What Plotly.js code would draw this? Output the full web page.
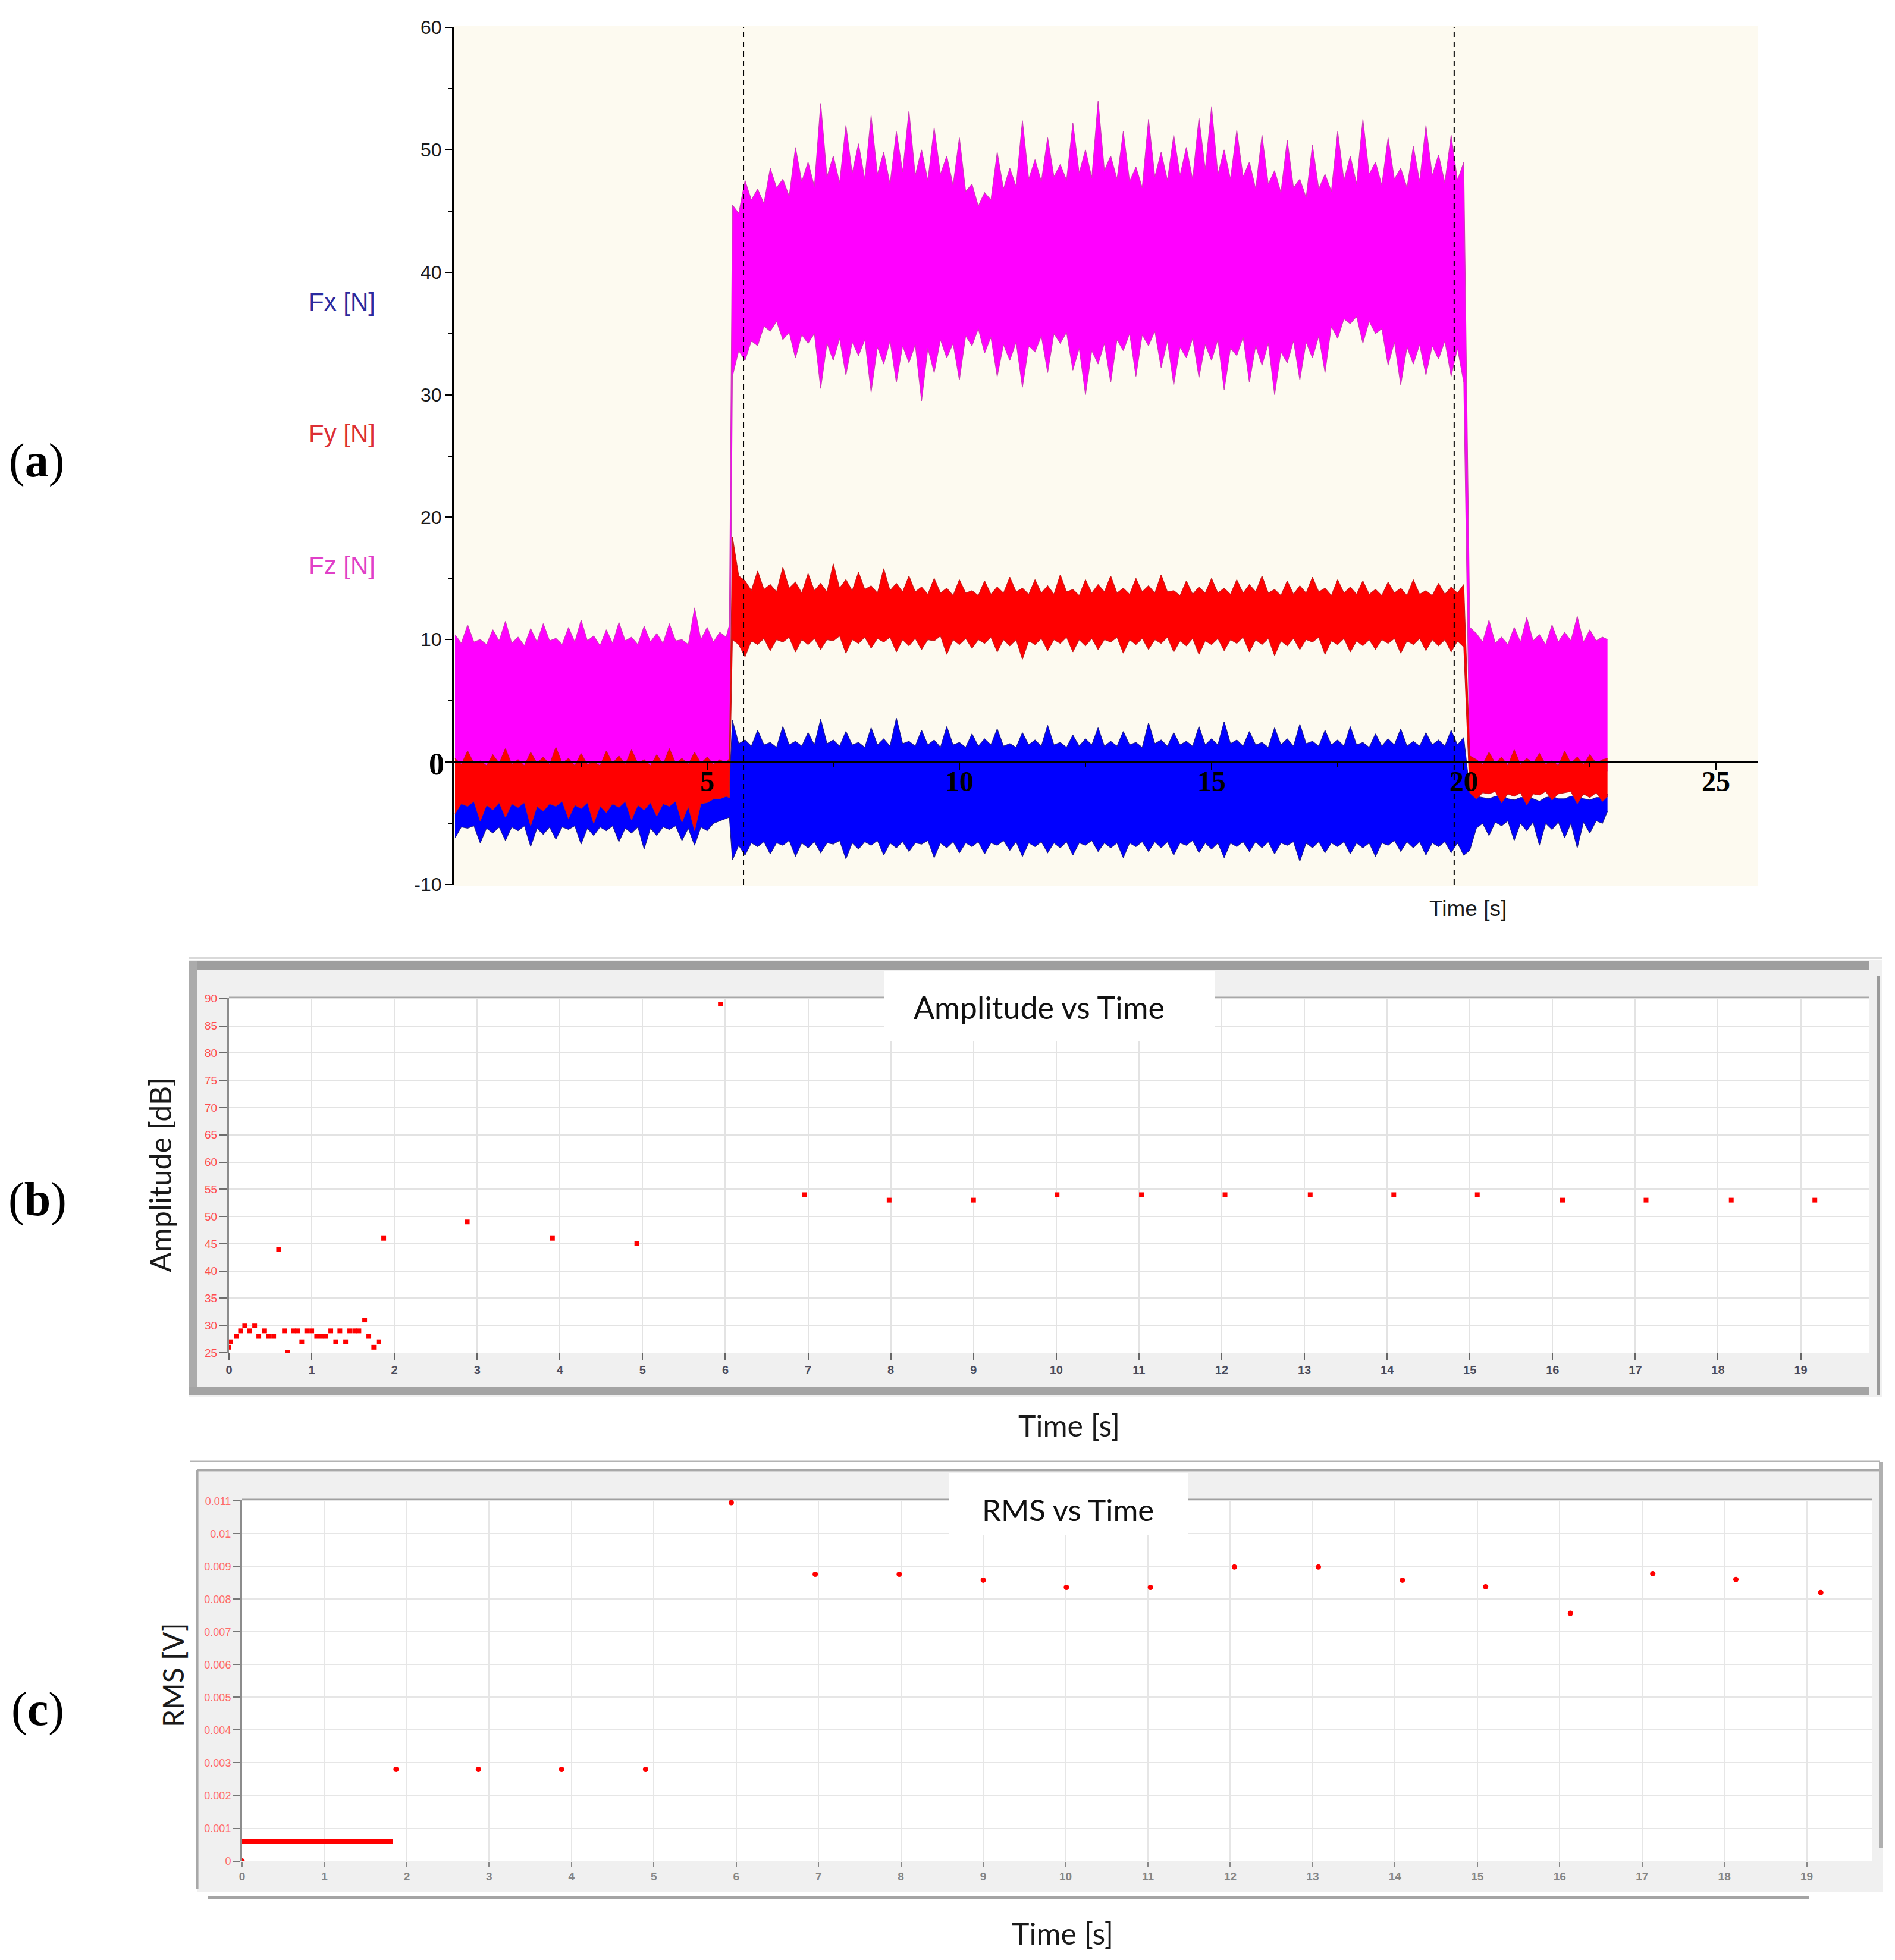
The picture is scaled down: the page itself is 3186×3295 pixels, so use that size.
<!DOCTYPE html>
<html><head><meta charset="utf-8">
<script src="https://cdn.plot.ly/plotly-3.0.1.min.js"></script>
<style>html,body{margin:0;padding:0;background:#fff}#chart{width:3186px;height:3295px}</style>
</head><body><div id="chart"></div>
<script>
// ---------------- DATA ----------------
// Panel (a): force signals, read as upper/lower envelopes of the noisy bands (one row per second)
const forceTime = [
  0, 0.125, 0.25, 0.375, 0.5, 0.625, 0.75, 0.875,
  1, 1.125, 1.25, 1.375, 1.5, 1.625, 1.75, 1.875,
  2, 2.125, 2.25, 2.375, 2.5, 2.625, 2.75, 2.875,
  3, 3.125, 3.25, 3.375, 3.5, 3.625, 3.75, 3.875,
  4, 4.125, 4.25, 4.375, 4.5, 4.625, 4.75, 4.875,
  5, 5.125, 5.25, 5.375, 5.44,
  5.5, 5.625, 5.75, 5.875,
  6, 6.125, 6.25, 6.375, 6.5, 6.625, 6.75, 6.875,
  7, 7.125, 7.25, 7.375, 7.5, 7.625, 7.75, 7.875,
  8, 8.125, 8.25, 8.375, 8.5, 8.625, 8.75, 8.875,
  9, 9.125, 9.25, 9.375, 9.5, 9.625, 9.75, 9.875,
  10, 10.125, 10.25, 10.375, 10.5, 10.625, 10.75, 10.875,
  11, 11.125, 11.25, 11.375, 11.5, 11.625, 11.75, 11.875,
  12, 12.125, 12.25, 12.375, 12.5, 12.625, 12.75, 12.875,
  13, 13.125, 13.25, 13.375, 13.5, 13.625, 13.75, 13.875,
  14, 14.125, 14.25, 14.375, 14.5, 14.625, 14.75, 14.875,
  15, 15.125, 15.25, 15.375, 15.5, 15.625, 15.75, 15.875,
  16, 16.125, 16.25, 16.375, 16.5, 16.625, 16.75, 16.875,
  17, 17.125, 17.25, 17.375, 17.5, 17.625, 17.75, 17.875,
  18, 18.125, 18.25, 18.375, 18.5, 18.625, 18.75, 18.875,
  19, 19.125, 19.25, 19.375, 19.5, 19.625, 19.75, 19.875,
  20,
  20.12, 20.25, 20.375, 20.5, 20.625, 20.75, 20.875,
  21, 21.125, 21.25, 21.375, 21.5, 21.625, 21.75, 21.875,
  22, 22.125, 22.25, 22.375, 22.5, 22.625, 22.75,
  22.85
];
const fzUpper = [
  10.4, 9.7, 11.2, 9.8, 10.0, 9.6, 10.8, 9.9,
  11.5, 9.7, 10.2, 9.5, 10.9, 9.8, 11.3, 9.9,
  10.1, 9.6, 11.0, 9.8, 11.6, 9.9, 10.3, 9.5,
  10.8, 9.7, 11.4, 9.9, 10.2, 9.6, 11.1, 9.8,
  10.5, 9.7, 11.3, 9.9, 10.0, 9.6, 12.6, 10.0,
  11.0, 9.8, 10.6, 10.2, 11.2,
  45.5, 44.8, 47.5, 45.9,
  46.8, 45.6, 48.5, 46.9, 47.6, 46.2, 50.2, 47.4,
  49.0, 47.0, 53.8, 47.8, 49.5, 47.3, 52.0, 48.1,
  50.5, 47.6, 52.8, 48.0, 49.8, 47.2, 51.5, 48.2,
  53.2, 47.9, 50.0, 47.5, 51.8, 48.0, 49.5, 47.1,
  51.0, 46.6, 47.2, 45.4, 46.5, 45.9, 49.8, 46.8,
  48.5, 47.0, 52.4, 47.6, 49.2, 47.4, 51.0, 47.8,
  48.8, 47.5, 52.2, 48.1, 50.0, 47.7, 54.0, 48.3,
  49.5, 47.6, 51.5, 47.4, 48.6, 46.9, 52.5, 47.8,
  49.8, 47.5, 51.2, 47.9, 50.2, 47.6, 52.6, 48.4,
  53.5, 48.0, 50.0, 47.6, 51.6, 47.8, 49.0, 46.8,
  51.2, 47.2, 48.3, 46.5, 50.8, 46.9, 47.6, 46.1,
  50.4, 46.8, 48.0, 46.6, 51.5, 47.5, 49.5, 47.2,
  52.5, 48.0, 49.0, 47.1, 51.0, 47.6, 48.5, 46.9,
  50.3, 47.4, 52.0, 47.9, 49.6, 47.3, 51.2, 47.5,
  49.0,
  11.0, 10.5, 9.8, 11.6, 9.7, 10.2, 9.6,
  11.0, 9.8, 11.8, 9.9, 10.4, 9.6, 11.2, 9.8,
  10.6, 9.9, 11.9, 9.8, 10.8, 9.9, 10.2,
  10.0
];
const fzLower = [
  -0.8, -0.6, -0.9, -0.7, -0.8, -0.6, -0.9, -0.7,
  -0.8, -0.6, -0.9, -0.7, -0.8, -0.6, -0.9, -0.7,
  -0.8, -0.6, -0.9, -0.7, -0.8, -0.6, -0.9, -0.7,
  -0.8, -0.6, -0.9, -0.7, -0.8, -0.6, -0.9, -0.7,
  -0.8, -0.6, -0.9, -0.7, -0.8, -0.6, -0.9, -0.7,
  -0.8, -0.6, -0.9, -0.7, -0.7,
  31.5, 33.6, 32.8, 34.4,
  34.0, 35.6, 35.2, 36.0, 34.5, 35.1, 33.0, 34.9,
  34.2, 35.0, 30.5, 34.2, 32.8, 34.6, 31.6, 34.3,
  33.2, 34.5, 30.2, 33.9, 32.5, 34.4, 31.0, 34.0,
  32.6, 34.1, 29.5, 33.8, 31.8, 34.5, 33.0, 34.2,
  31.2, 34.8, 34.0, 35.4, 33.4, 34.7, 31.5, 34.1,
  32.8, 34.3, 30.6, 34.0, 33.5, 34.8, 31.8, 35.0,
  34.2, 35.1, 32.0, 33.8, 30.0, 33.6, 32.5, 34.2,
  31.0, 34.5, 33.6, 35.0, 31.5, 34.9, 34.0, 35.2,
  32.2, 34.4, 30.8, 33.9, 33.0, 34.6, 31.4, 34.1,
  32.8, 34.5, 30.4, 33.8, 33.2, 34.7, 31.0, 34.0,
  32.4, 34.2, 30.0, 33.5, 32.6, 34.4, 31.2, 34.3,
  33.0, 34.8, 31.8, 35.6, 34.6, 36.2, 35.8, 36.4,
  34.2, 36.0, 35.0, 35.4, 32.4, 34.3, 30.8, 33.9,
  32.5, 34.1, 31.6, 34.0, 32.9, 34.4, 31.5, 33.8,
  31.0,
  -0.5, -0.8, -0.6, -0.9, -0.7, -0.8, -0.6,
  -0.9, -0.7, -0.8, -0.6, -0.9, -0.7, -0.8, -0.6,
  -0.9, -0.7, -0.8, -0.6, -0.9, -0.7, -0.8,
  -0.7
];
const fyUpper = [
  0.3, -0.2, 0.9, -0.1, 0.1, -0.3, 0.6, -0.1,
  1.1, -0.2, 0.2, -0.3, 0.8, -0.1, 0.4, -0.2,
  1.2, -0.1, 0.3, -0.3, 0.7, -0.2, 0.0, -0.3,
  0.9, -0.1, 0.5, -0.2, 1.0, -0.1, 0.2, -0.3,
  0.6, -0.2, 1.1, -0.1, 0.3, -0.2, 0.8, -0.1,
  0.4, -0.2, 0.2, -0.1, 0.3,
  18.4, 15.2, 14.8, 14.0,
  15.6, 14.1, 14.5, 13.9, 15.9, 14.2, 14.7, 13.8,
  15.4, 14.0, 14.6, 13.9, 16.2, 14.2, 14.9, 14.0,
  15.5, 14.1, 14.4, 13.8, 15.8, 14.0, 14.6, 13.9,
  15.2, 13.9, 14.3, 13.7, 15.0, 13.8, 14.2, 13.6,
  14.9, 13.8, 14.0, 13.6, 14.8, 13.7, 14.3, 13.8,
  15.1, 13.9, 14.2, 13.7, 14.9, 13.8, 14.4, 13.7,
  15.3, 13.9, 14.1, 13.6, 14.9, 13.8, 14.5, 13.9,
  15.2, 13.8, 14.2, 13.7, 15.0, 13.9, 14.4, 13.8,
  15.3, 13.9, 14.0, 13.6, 14.8, 13.7, 14.3, 13.8,
  15.0, 13.8, 14.2, 13.7, 14.9, 13.8, 14.5, 13.9,
  15.2, 13.8, 14.1, 13.6, 14.8, 13.7, 14.4, 13.8,
  15.1, 13.9, 14.2, 13.6, 14.9, 13.8, 14.3, 13.7,
  14.8, 13.7, 14.1, 13.6, 14.7, 13.8, 14.2, 13.6,
  14.9, 13.7, 14.0, 13.6, 14.6, 13.7, 14.3, 13.8,
  14.5,
  0.5, 0.2, -0.2, 0.8, -0.1, 0.4, -0.3,
  1.0, -0.2, 0.3, -0.1, 0.7, -0.2, 0.1, -0.3,
  0.9, -0.1, 0.4, -0.2, 0.6, -0.1, 0.2,
  0.3
];
const fyLower = [
  -4.2, -3.4, -3.6, -3.2, -4.8, -3.5, -3.9, -3.3,
  -4.5, -3.4, -3.7, -3.3, -5.2, -3.6, -4.0, -3.4,
  -3.6, -3.2, -4.6, -3.5, -3.8, -3.3, -5.0, -3.6,
  -4.1, -3.4, -3.7, -3.2, -4.7, -3.5, -3.9, -3.3,
  -4.4, -3.4, -3.6, -3.2, -4.9, -3.6, -5.6, -3.4,
  -3.3, -3.0, -3.0, -2.8, -2.9,
  10.0, 9.6, 8.6, 9.9,
  9.6, 10.1, 9.1, 10.0, 9.8, 10.2, 9.0, 10.0,
  9.6, 10.1, 9.2, 10.0, 9.9, 10.3, 8.9, 10.0,
  9.7, 10.2, 9.3, 10.1, 9.8, 10.2, 9.0, 10.0,
  9.5, 10.1, 9.2, 10.0, 9.9, 10.3, 8.8, 10.0,
  9.6, 10.1, 9.3, 10.0, 9.7, 10.2, 9.0, 10.0,
  9.5, 10.0, 8.4, 9.9, 9.6, 10.1, 9.1, 10.0,
  9.7, 10.2, 9.0, 10.0, 9.5, 10.1, 9.2, 10.0,
  9.8, 10.2, 8.9, 10.0, 9.6, 10.1, 9.2, 10.0,
  9.7, 10.2, 9.0, 9.9, 9.5, 10.1, 8.8, 9.9,
  9.6, 10.1, 9.1, 10.0, 9.7, 10.2, 9.0, 10.0,
  9.6, 10.1, 8.7, 9.9, 9.5, 10.1, 9.2, 10.0,
  9.8, 10.2, 8.8, 9.9, 9.6, 10.1, 9.0, 9.9,
  9.5, 10.0, 9.2, 10.0, 9.7, 10.1, 8.9, 9.9,
  9.6, 10.1, 9.1, 10.0, 9.5, 10.0, 9.0, 9.9,
  9.4,
  -2.5, -3.0, -2.5, -2.6, -2.4, -3.3, -2.6,
  -2.8, -2.5, -3.5, -2.6, -2.7, -2.4, -3.1, -2.6,
  -2.5, -2.4, -3.4, -2.6, -2.9, -2.5, -3.2,
  -2.8
];
const fxUpper = [
  -3.2, -3.0, -2.9, -3.1, -3.4, -3.0, -3.0, -3.2,
  -3.3, -3.0, -2.8, -3.1, -3.5, -3.0, -3.1, -3.2,
  -2.9, -3.1, -3.3, -3.0, -3.0, -3.2, -3.4, -3.0,
  -2.8, -3.1, -3.2, -3.0, -3.0, -3.2, -3.3, -3.0,
  -2.9, -3.1, -3.1, -3.0, -3.4, -3.1, -3.0, -2.8,
  -2.6, -2.5, -2.4, -2.2, -2.0,
  3.4, 1.5, 1.8, 1.3,
  2.6, 1.4, 1.6, 1.2, 2.9, 1.4, 1.7, 1.3,
  2.4, 1.4, 3.5, 1.5, 1.8, 1.3, 2.5, 1.4,
  1.6, 1.2, 2.8, 1.4, 1.9, 1.3, 3.6, 1.5,
  1.7, 1.3, 2.6, 1.4, 1.8, 1.2, 2.9, 1.4,
  1.6, 1.2, 2.3, 1.3, 1.9, 1.4, 2.7, 1.3,
  1.5, 1.2, 2.4, 1.4, 1.8, 1.3, 3.0, 1.4,
  1.6, 1.2, 2.2, 1.3, 1.9, 1.4, 2.8, 1.3,
  1.7, 1.3, 2.5, 1.4, 1.6, 1.2, 3.2, 1.5,
  1.8, 1.3, 2.4, 1.4, 1.7, 1.3, 2.9, 1.4,
  1.9, 1.4, 3.3, 1.5, 1.8, 1.3, 2.5, 1.4,
  1.6, 1.2, 2.8, 1.4, 1.9, 1.3, 3.1, 1.5,
  1.7, 1.3, 2.6, 1.4, 1.8, 1.3, 2.9, 1.4,
  1.6, 1.2, 2.3, 1.3, 1.9, 1.4, 2.7, 1.3,
  1.7, 1.3, 2.4, 1.4, 1.8, 1.3, 2.6, 1.4,
  2.0,
  -2.4, -2.8, -2.9, -3.0, -2.8, -2.7, -3.0,
  -3.1, -2.9, -2.9, -3.0, -3.2, -2.9, -2.8, -3.0,
  -3.0, -2.8, -2.7, -3.0, -3.1, -2.9, -2.9,
  -2.6
];
const fxLower = [
  -6.2, -5.3, -5.4, -5.2, -6.6, -5.4, -5.8, -5.3,
  -6.4, -5.3, -5.6, -5.2, -6.9, -5.4, -5.9, -5.3,
  -6.3, -5.3, -5.5, -5.2, -6.7, -5.4, -6.0, -5.3,
  -5.6, -5.2, -6.5, -5.4, -5.8, -5.3, -7.1, -5.4,
  -6.0, -5.3, -5.5, -5.2, -6.4, -5.4, -6.8, -5.3,
  -5.6, -5.0, -4.8, -4.6, -4.5,
  -8.0, -6.8, -7.6, -6.6,
  -6.9, -6.5, -7.5, -6.6, -6.8, -6.4, -7.7, -6.6,
  -7.0, -6.5, -7.4, -6.6, -6.7, -6.4, -7.9, -6.6,
  -7.1, -6.5, -6.8, -6.4, -7.6, -6.6, -7.0, -6.5,
  -7.3, -6.6, -6.7, -6.4, -7.8, -6.6, -7.0, -6.5,
  -7.4, -6.6, -6.9, -6.5, -7.5, -6.6, -6.8, -6.4,
  -7.2, -6.5, -7.7, -6.6, -6.9, -6.5, -7.4, -6.6,
  -7.0, -6.5, -7.6, -6.6, -6.8, -6.4, -7.3, -6.6,
  -7.0, -6.6, -7.8, -6.6, -6.9, -6.5, -7.3, -6.5,
  -7.0, -6.5, -7.6, -6.6, -6.8, -6.4, -7.4, -6.6,
  -7.1, -6.6, -7.8, -6.6, -6.9, -6.5, -7.3, -6.5,
  -7.0, -6.5, -7.5, -6.6, -6.8, -6.5, -8.1, -6.6,
  -7.0, -6.5, -7.4, -6.6, -6.9, -6.5, -7.5, -6.6,
  -7.0, -6.6, -7.7, -6.6, -6.8, -6.4, -7.3, -6.5,
  -7.0, -6.5, -7.6, -6.6, -6.9, -6.5, -7.4, -6.6,
  -7.6,
  -7.2, -5.4, -5.0, -6.0, -4.9, -5.2, -4.8,
  -6.4, -5.0, -5.6, -4.9, -6.8, -5.0, -5.5, -4.9,
  -6.2, -5.0, -7.0, -4.9, -5.8, -4.8, -5.0,
  -4.0
];
const eventTimes = [5.72, 19.81];
const forceXTicks = [5, 10, 15, 20, 25];
const forceYTicks = [-10, 0, 10, 20, 30, 40, 50, 60];
const forceYTickText = ['-10', '', '10', '20', '30', '40', '50', '60'];
const forceLabels = ['Fx [N]', 'Fy [N]', 'Fz [N]'];

// Panel (b): Amplitude vs Time
const ampTime = [0.00, 0.02, 0.09, 0.14, 0.19, 0.25, 0.31, 0.36, 0.43, 0.48, 0.54, 0.60, 0.67, 0.71, 0.78, 0.83, 0.88, 0.94, 1.00,
  1.06, 1.12, 1.17, 1.23, 1.29, 1.34, 1.41, 1.46, 1.52, 1.57, 1.64, 1.69, 1.75, 1.81, 1.87, 2.88, 3.91, 4.93,
  5.94, 6.96, 7.98, 9.00, 10.01, 11.03, 12.04, 13.07, 14.08, 15.09, 16.12, 17.13, 18.16, 19.17];
const ampDb = [26, 27, 28, 29, 30, 29, 30, 28, 29, 28, 28, 44, 29, 25, 29, 29, 27, 29, 29,
  28, 28, 28, 29, 27, 29, 27, 29, 29, 29, 31, 28, 26, 27, 46, 49, 46, 45,
  89, 54, 53, 53, 54, 54, 54, 54, 54, 54, 53, 53, 53, 53];
const ampYTicks = [25, 30, 35, 40, 45, 50, 55, 60, 65, 70, 75, 80, 85, 90];

// Panel (c): RMS vs Time
const rmsTime = [0, 1.87, 2.87, 3.88, 4.90, 5.94, 6.96, 7.98, 9.00, 10.01, 11.03, 12.05, 13.07, 14.09, 15.10, 16.13, 17.13, 18.14, 19.17];
const rmsV = [0, 0.0028, 0.0028, 0.0028, 0.0028, 0.01095, 0.00876, 0.00876, 0.00858, 0.00836, 0.00836, 0.00898, 0.00898, 0.00858, 0.00838, 0.00757, 0.00878, 0.0086, 0.0082];
const rmsEarlyTime = [0, 1.83];
const rmsEarlyV = [0.0006, 0.0006];
const rmsYTicks = [0, 0.001, 0.002, 0.003, 0.004, 0.005, 0.006, 0.007, 0.008, 0.009, 0.01, 0.011];
const rmsYTickText = ['0', '0.001', '0.002', '0.003', '0.004', '0.005', '0.006', '0.007', '0.008', '0.009', '0.01', '0.011'];
const timeTicks = [0, 1, 2, 3, 4, 5, 6, 7, 8, 9, 10, 11, 12, 13, 14, 15, 16, 17, 18, 19];

// ---------------- LAYOUT HELPERS ----------------
const W = 3186, H = 3295;
const px = x => x / W;
const py = y => 1 - y / H;
function rect(x0, y0, x1, y1, fill, layer) {
  return {type: 'rect', xref: 'paper', yref: 'paper', x0: px(x0), x1: px(x1), y0: py(y0), y1: py(y1),
    fillcolor: fill, line: {width: 0}, layer: layer || 'below'};
}
function hline(x0, x1, y, color, w, layer) {
  return {type: 'line', xref: 'paper', yref: 'paper', x0: px(x0), x1: px(x1), y0: py(y), y1: py(y),
    line: {color: color, width: w}, layer: layer || 'below'};
}
function vline(x, y0, y1, color, w, layer) {
  return {type: 'line', xref: 'paper', yref: 'paper', x0: px(x), x1: px(x), y0: py(y0), y1: py(y1),
    line: {color: color, width: w}, layer: layer || 'below'};
}
function ann(x, y, text, font, extra) {
  return Object.assign({xref: 'paper', yref: 'paper', x: px(x), y: py(y), text: text, showarrow: false,
    xanchor: 'center', yanchor: 'middle', font: font}, extra || {});
}

// ---------------- TRACES ----------------
function band(lo, hi, fill, edge) {
  return [
    {x: forceTime, y: lo, type: 'scatter', mode: 'lines', line: {color: edge, width: 1.2}, xaxis: 'x', yaxis: 'y', hoverinfo: 'skip'},
    {x: forceTime, y: hi, type: 'scatter', mode: 'lines', fill: 'tonexty', fillcolor: fill, line: {color: edge, width: 1.2}, xaxis: 'x', yaxis: 'y', hoverinfo: 'skip'}
  ];
}
const traces = [].concat(
  band(fzLower, fzUpper, '#FF00FF', '#CC3CB8'),
  band(fxLower, fxUpper, '#0000FF', '#1C1C8E'),
  band(fyLower, fyUpper, '#FF0000', '#C41C1C'),
  [
    {x: ampTime, y: ampDb, type: 'scatter', mode: 'markers', xaxis: 'x2', yaxis: 'y2',
      marker: {symbol: 'square', size: 8, color: '#FF0000', line: {width: 0}}},
    {x: rmsEarlyTime, y: rmsEarlyV, type: 'scatter', mode: 'lines', xaxis: 'x3', yaxis: 'y3',
      line: {color: '#FF0000', width: 9}},
    {x: rmsTime, y: rmsV, type: 'scatter', mode: 'markers', xaxis: 'x3', yaxis: 'y3',
      marker: {symbol: 'circle', size: 9, color: '#FF0000', line: {width: 0}}}
  ]
);

const sansFont = 'Liberation Sans, Arial, sans-serif';
const serifFont = 'Liberation Serif, Times New Roman, serif';
const uiFont = 'Lato, Open Sans, sans-serif';

const shapes = [
  // panel (a) background
  rect(763, 44, 2955, 1490, '#FDFAF0'),
  // panel (b) frame
  rect(318, 1614, 3164, 2348, '#F0F0F0'),
  rect(385, 1677, 3143, 2274, '#FFFFFF'),
  hline(318, 3164, 1610.5, '#B4B4B4', 2),
  rect(318, 1615, 3142, 1630, '#9E9E9E'),
  rect(318, 1615, 332, 2346, '#ABABAB'),
  rect(318, 2332, 3142, 2346, '#A4A4A4'),
  rect(3155, 1641, 3160, 2345, '#9A9A9A'),
  hline(385, 3143, 1677, '#A8A8A8', 3),
  // panel (c) frame
  rect(332, 2474, 3165, 3180, '#F0F0F0'),
  rect(407, 2521, 3147, 3128.6, '#FFFFFF'),
  hline(320, 3160, 2456.5, '#B4B4B4', 2),
  hline(332, 3160, 2471.5, '#A8A8A8', 4),
  hline(407, 3147, 2521, '#A0A0A0', 3),
  vline(331.6, 2472, 3176, '#A8A8A8', 4),
  rect(3159, 2457, 3165, 3106, '#B0B0B0'),
  hline(349, 3041, 3190, '#A4A4A4', 4),
  // title boxes (above grid)
  rect(1487, 1632, 2043, 1750, '#FFFFFF', 'above'),
  rect(1595, 2477, 1997, 2580, '#FFFFFF', 'above')
];
eventTimes.forEach(t => shapes.push({type: 'line', xref: 'x', yref: 'y', x0: t, x1: t, y0: -10, y1: 60,
  line: {color: '#000000', width: 2, dash: '9px,7px'}, layer: 'above'}));

const forceLabelColors = ['#2A2AA0', '#DC2F36', '#E040C8'];
const forceLabelY = [508, 729, 950];
const annotations = [
  ann(62, 775, '(<b>a</b>)', {family: serifFont, size: 80, color: '#000'}),
  ann(63, 2017, '(<b>b</b>)', {family: serifFont, size: 80, color: '#000'}),
  ann(63, 2873, '(<b>c</b>)', {family: serifFont, size: 80, color: '#000'}),
  ann(734, 1284, '0', {family: serifFont, size: 52, color: '#000', weight: 'bold'}),
  ann(2468, 1527, 'Time [s]', {family: sansFont, size: 37, color: '#1a1a1a'}),
  ann(1747, 1693, 'Amplitude vs Time', {family: uiFont, size: 52, color: '#111'}),
  ann(269, 1975, 'Amplitude [dB]', {family: uiFont, size: 50, color: '#1a1a1a'}, {textangle: -90}),
  ann(1797, 2396, 'Time [s]', {family: uiFont, size: 50, color: '#1a1a1a'}),
  ann(1795, 2537, 'RMS vs Time', {family: uiFont, size: 51, color: '#111'}),
  ann(290, 2816, 'RMS [V]', {family: uiFont, size: 48, color: '#1a1a1a'}, {textangle: -90}),
  ann(1786, 3250, 'Time [s]', {family: uiFont, size: 50, color: '#1a1a1a'})
];
forceLabels.forEach((t, i) => annotations.push(ann(575, forceLabelY[i], t, {family: sansFont, size: 42, color: forceLabelColors[i]})));

const layout = {
  width: W, height: H,
  margin: {l: 0, r: 0, t: 0, b: 0, pad: 0},
  paper_bgcolor: '#FFFFFF', plot_bgcolor: 'rgba(0,0,0,0)',
  showlegend: false,
  font: {family: sansFont, color: '#222'},
  xaxis: {
    domain: [px(763), px(2955)], range: [-0.0236, 25.826], anchor: 'free', position: py(1281.1),
    showline: true, linecolor: '#000', linewidth: 2, showgrid: false, zeroline: false,
    ticks: 'outside', ticklen: 12, tickwidth: 2, tickcolor: '#000',
    tickmode: 'array', tickvals: forceXTicks, ticklabelstandoff: -22,
    tickfont: {family: serifFont, size: 48, color: '#000', weight: 'bold'},
    minor: {tickvals: [2.5, 7.5, 12.5, 17.5, 22.5], ticks: 'outside', ticklen: 7, tickwidth: 2, tickcolor: '#000', showgrid: false},
    automargin: false, fixedrange: true
  },
  yaxis: {
    domain: [py(1487), py(46)], range: [-10, 60], anchor: 'x',
    showline: true, linecolor: '#000', linewidth: 3, showgrid: false, zeroline: false,
    ticks: 'outside', ticklen: 11, tickwidth: 2, tickcolor: '#000',
    tickmode: 'array', tickvals: forceYTicks, ticktext: forceYTickText,
    tickfont: {family: sansFont, size: 32, color: '#1a1a1a'},
    minor: {tickvals: [-5, 5, 15, 25, 35, 45, 55], ticks: 'outside', ticklen: 6, tickwidth: 2, tickcolor: '#000', showgrid: false},
    automargin: false, fixedrange: true
  },
  xaxis2: {
    domain: [px(385), px(3143)], range: [0, 19.83], anchor: 'y2',
    showline: false, zeroline: false, showgrid: true, gridcolor: '#E3E3E3', gridwidth: 2,
    ticks: 'outside', ticklen: 11, tickwidth: 2, tickcolor: '#666',
    tickmode: 'array', tickvals: timeTicks,
    tickfont: {family: sansFont, size: 20, color: '#4B4B5B', weight: 'bold'},
    automargin: false, fixedrange: true
  },
  yaxis2: {
    domain: [py(2274), py(1677)], range: [25, 90.2], anchor: 'x2',
    showline: true, linecolor: '#8C8C8C', linewidth: 3, zeroline: false,
    showgrid: true, gridcolor: '#E3E3E3', gridwidth: 2,
    ticks: 'outside', ticklen: 13, tickwidth: 2, tickcolor: '#6C6C6C',
    tickmode: 'array', tickvals: ampYTicks,
    tickfont: {family: sansFont, size: 19, color: '#FF4D4D'},
    automargin: false, fixedrange: true
  },
  xaxis3: {
    domain: [px(407), px(3147)], range: [0, 19.79], anchor: 'y3',
    showline: false, zeroline: false, showgrid: true, gridcolor: '#E6E6E6', gridwidth: 2,
    ticks: 'outside', ticklen: 9, tickwidth: 2, tickcolor: '#888',
    tickmode: 'array', tickvals: timeTicks,
    tickfont: {family: sansFont, size: 19, color: '#858585', weight: 'bold'},
    automargin: false, fixedrange: true
  },
  yaxis3: {
    domain: [py(3128.6), py(2521)], range: [0, 0.01104], anchor: 'x3',
    showline: true, linecolor: '#8C8C8C', linewidth: 3, zeroline: false,
    showgrid: true, gridcolor: '#E6E6E6', gridwidth: 2,
    ticks: 'outside', ticklen: 12, tickwidth: 2, tickcolor: '#777',
    tickmode: 'array', tickvals: rmsYTicks, ticktext: rmsYTickText,
    tickfont: {family: sansFont, size: 18, color: '#FF6A6A'},
    automargin: false, fixedrange: true
  },
  shapes: shapes,
  annotations: annotations
};

Plotly.newPlot('chart', traces, layout, {staticPlot: true, displayModeBar: false});
</script>
</body></html>
